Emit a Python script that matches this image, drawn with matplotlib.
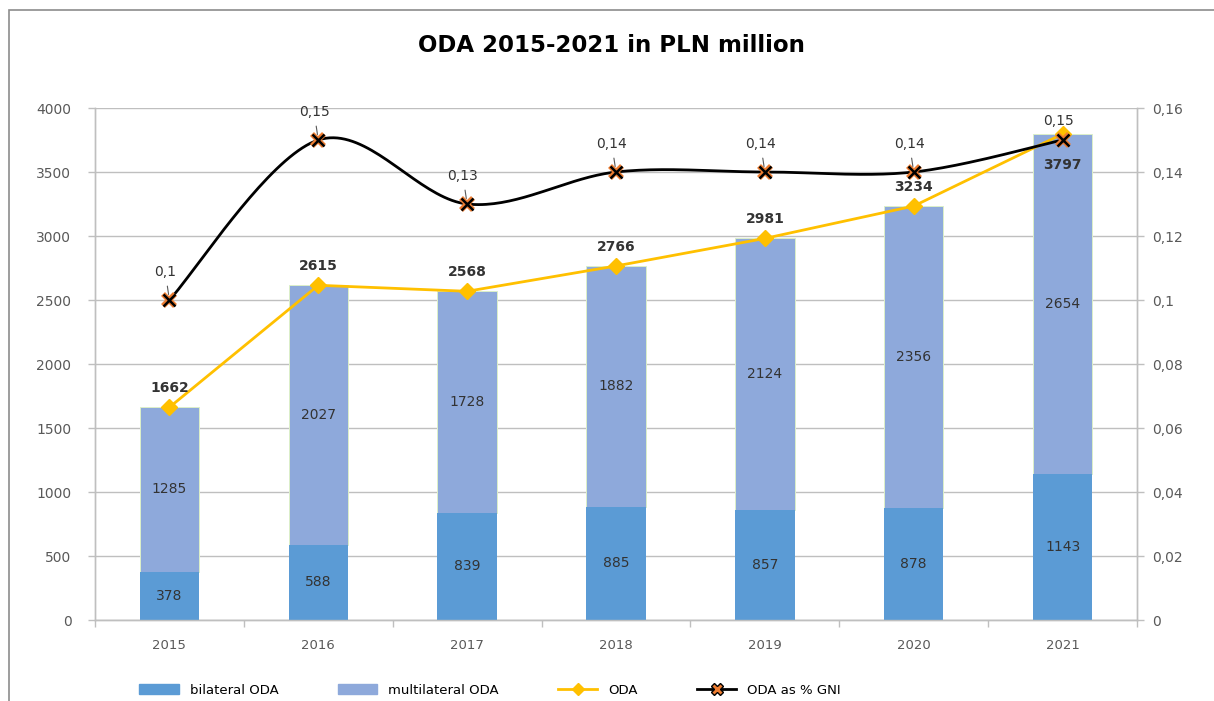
import numpy as np
import matplotlib
matplotlib.use("Agg")
import matplotlib.pyplot as plt
from matplotlib.lines import Line2D
from matplotlib.patches import Patch, Rectangle
from matplotlib.ticker import FixedLocator, FuncFormatter

years = ["2015", "2016", "2017", "2018", "2019", "2020", "2021"]
bilateral = [378, 588, 839, 885, 857, 878, 1143]
multilateral = [1285, 2027, 1728, 1882, 2124, 2356, 2654]
oda_total = [1662, 2615, 2568, 2766, 2981, 3234, 3797]
oda_gni = [0.10, 0.15, 0.13, 0.14, 0.14, 0.14, 0.15]

c_bil = "#5B9BD5"
c_mul = "#8EA9DB"
c_oda = "#FFC000"
c_grid = "#BFBFBF"
c_txt = "#333333"
c_tick = "#595959"


def smooth(xs, ys, n=40):
    # Excel-style smoothed line: bezier segments with catmull-rom controls
    p = np.column_stack([xs, ys]).astype(float)
    p = np.vstack([p[0], p, p[-1]])
    out = []
    for i in range(1, len(p) - 2):
        p0, p1, p2, p3 = p[i - 1], p[i], p[i + 1], p[i + 2]
        c1 = p1 + (p2 - p0) / 6
        c2 = p2 - (p3 - p1) / 6
        t = np.linspace(0, 1, n)[:, None]
        seg = ((1 - t) ** 3) * p1 + 3 * ((1 - t) ** 2) * t * c1 + 3 * (1 - t) * t ** 2 * c2 + t ** 3 * p2
        out.append(seg if i == 1 else seg[1:])
    out = np.vstack(out)
    return out[:, 0], out[:, 1]


fig = plt.figure(figsize=(12.14, 7.01), dpi=100)
ax = fig.add_axes([95 / 1214, 1 - 620 / 701, (1137 - 95) / 1214, (620 - 108) / 701])
ax2 = ax.twinx()

x = np.arange(len(years))
w = 0.4
ax.bar(x, multilateral, w, bottom=bilateral, color=c_mul, edgecolor="#DCEFC8", linewidth=0.7, zorder=2)
ax.bar(x, bilateral, w, color=c_bil, zorder=3)
ax.plot(x, oda_total, color=c_oda, lw=2, marker="D", ms=8, zorder=4)

ax.set_xlim(-0.5, len(years) - 0.5)
ax.set_ylim(0, 4000)
ax.set_yticks(np.arange(0, 4001, 500))
ax.yaxis.grid(True, color=c_grid, lw=1)
ax.set_axisbelow(True)
ax.set_xticks(x)
ax.set_xticklabels(years)
ax.xaxis.set_minor_locator(FixedLocator(np.arange(-0.5, len(years), 1)))
ax.tick_params(axis="x", which="major", length=0, pad=14, labelsize=9.5, labelcolor=c_tick)
ax.tick_params(axis="x", which="minor", length=5, color=c_grid, width=1)
ax.tick_params(axis="y", length=5, color=c_grid, width=1, labelsize=10, labelcolor=c_tick, pad=12)

for a in (ax, ax2):
    a.spines["top"].set_visible(False)
    for s in ("left", "right", "bottom"):
        a.spines[s].set_color(c_grid)
        a.spines[s].set_linewidth(1)

ax2.set_ylim(0, 0.16)
ax2.set_yticks(np.arange(0, 0.161, 0.02))
ax2.yaxis.set_major_formatter(FuncFormatter(lambda v, p: f"{round(v, 2):g}".replace(".", ",")))
ax2.tick_params(axis="y", length=5, color=c_grid, width=1, labelsize=10, labelcolor=c_tick, pad=6)

sx, sy = smooth(x, oda_gni)
ax2.plot(sx, sy, color="black", lw=2, zorder=5)
ax2.plot(x, oda_gni, ls="none", marker="x", ms=9, mec="#ED7D31", mew=4, zorder=6)
ax2.plot(x, oda_gni, ls="none", marker="x", ms=9, mec="black", mew=1.8, zorder=7)

# data labels
for i in range(len(years)):
    ax.text(x[i], bilateral[i] / 2, str(bilateral[i]), ha="center", va="center", fontsize=10, color=c_txt, zorder=8)
    ax.text(x[i], bilateral[i] + multilateral[i] / 2, str(multilateral[i]), ha="center", va="center",
            fontsize=10, color=c_txt, zorder=8)
    if i == len(years) - 1:
        ax.annotate(str(oda_total[i]), (x[i], oda_total[i]), xytext=(0, -22), textcoords="offset points",
                    ha="center", va="center", fontsize=10, fontweight="bold", color=c_txt, zorder=8)
        ax2.annotate(f"{oda_gni[i]:g}".replace(".", ","), (x[i], oda_gni[i]), xytext=(-3, 14),
                     textcoords="offset points", ha="center", va="center", fontsize=10, color=c_txt, zorder=8)
    else:
        ax.annotate(str(oda_total[i]), (x[i], oda_total[i]), xytext=(0, 14), textcoords="offset points",
                    ha="center", va="center", fontsize=10, fontweight="bold", color=c_txt, zorder=8)
        ax2.annotate(f"{oda_gni[i]:g}".replace(".", ","), (x[i], oda_gni[i]), xytext=(-3, 20),
                     textcoords="offset points", ha="center", va="center", fontsize=10, color=c_txt, zorder=8,
                     arrowprops=dict(arrowstyle="-", color="#595959", lw=0.8, shrinkA=3, shrinkB=4))

fig.text(0.504, 1 - 45 / 701, "ODA 2015-2021 in PLN million", ha="center", va="center",
         fontsize=16.5, fontweight="bold", color="black")

handles = [
    Patch(color=c_bil, label="bilateral ODA"),
    Patch(color=c_mul, label="multilateral ODA"),
    Line2D([], [], color=c_oda, lw=2, marker="D", ms=6, label="ODA"),
    Line2D([], [], color="black", lw=2, marker="X", ms=8, mfc="#ED7D31", mec="black", label="ODA as % GNI"),
]
fig.legend(handles=handles, loc="center", bbox_to_anchor=(490 / 1214, 1 - 690 / 701), ncol=4, frameon=False,
           fontsize=9.5, handlelength=3, columnspacing=4.5, handletextpad=0.8, labelcolor="black")

fig.add_artist(Rectangle((9 / 1214, -0.1), 1.2, 1.1 - 10 / 701, transform=fig.transFigure,
                         fill=False, edgecolor="#8C8C8C", lw=1.2))

fig.savefig("out.png", dpi=100)
